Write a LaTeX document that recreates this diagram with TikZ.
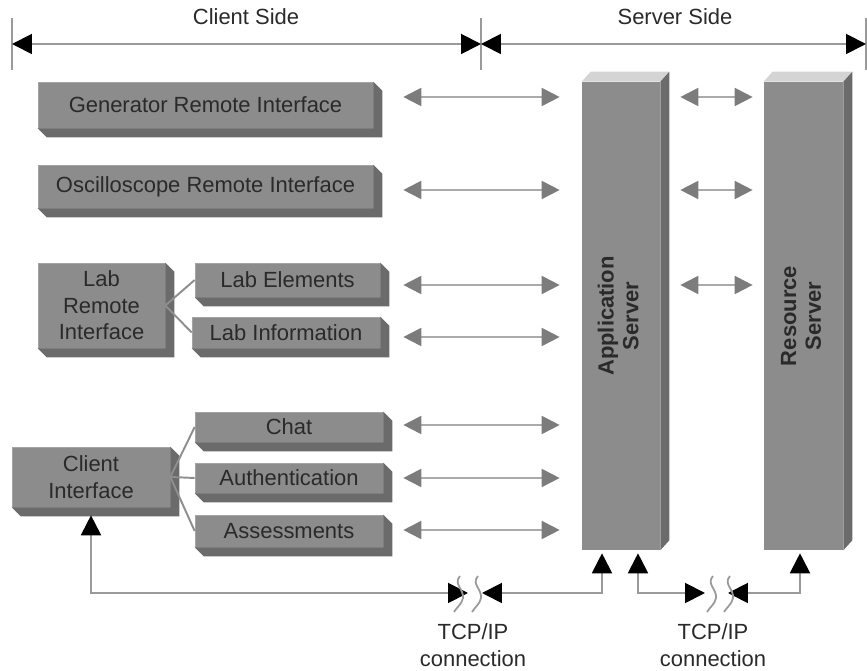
\documentclass[tikz,border=0pt]{standalone}
\usepackage{fontspec}
\setmainfont{Liberation Sans}
\usepackage{xcolor}
\usetikzlibrary{arrows.meta, positioning, calc}

\definecolor{facegray}{HTML}{8C8C8C}
\definecolor{sidegray}{HTML}{6B6B6B}
\definecolor{topgray}{HTML}{D4D4D4}
\definecolor{edgegray}{HTML}{A4A4A4}
\definecolor{linkgray}{HTML}{AAAAAA}
\definecolor{headgray}{HTML}{7C7C7C}
\definecolor{forkgray}{HTML}{8E8E8E}
\definecolor{netgray}{HTML}{9A9A9A}
\definecolor{textgray}{HTML}{2A2A2A}

\begin{document}
\begin{tikzpicture}[x=0.02cm, y=-0.02cm,
  font=\fontsize{12.5}{15}\selectfont,
  slab/.style={rectangle, fill=facegray, draw=edgegray, line width=0.4pt, inner sep=0pt, text=textgray, align=center},
  tower/.style={rectangle, fill=facegray, inner sep=0pt, text=textgray, minimum height=9.36cm, font=\fontsize{12.5}{14.2}\selectfont\bfseries},
  link/.style={draw=linkgray, line width=1.1pt, arrows={Triangle[length=0.36cm,width=0.36cm,color=headgray]-Triangle[length=0.36cm,width=0.36cm,color=headgray]}},
  fork/.style={draw=forkgray, line width=1.1pt},
  net/.style={draw=netgray, line width=1.1pt, arrows={Triangle[length=0.4cm,width=0.4cm,color=black]-Triangle[length=0.4cm,width=0.4cm,color=black]}},
  tick/.style={draw=netgray, line width=1pt},
  wave/.style={draw=netgray, line width=1pt},
  caption/.style={text=textgray, align=center}
]
\useasboundingbox (0,0) rectangle (867,671);

% Client side
\node (gen) [slab, minimum width=6.7cm, minimum height=0.92cm] at (205.5,105) {Generator Remote Interface};
\node (osc) [slab, minimum width=6.7cm, minimum height=0.86cm] at (205.5,186.5) {Oscilloscope Remote Interface};
\node (labri) [slab, minimum width=2.54cm, minimum height=1.7cm] at (101.5,305.5) {Lab\\Remote\\Interface};
\node (labelem) [slab, minimum width=3.7cm, minimum height=0.68cm] at (287.5,280) {Lab Elements};
\node (labinfo) [slab, minimum width=3.76cm, minimum height=0.62cm] at (286,332.5) {Lab Information};
\node (ci) [slab, minimum width=3.16cm, minimum height=1.2cm] at (91,477) {Client\\Interface};
\node (chat) [slab, minimum width=3.76cm, minimum height=0.6cm] at (289,427) {Chat};
\node (auth) [slab, minimum width=3.76cm, minimum height=0.6cm] at (289,478) {Authentication};
\node (assess) [slab, minimum width=3.76cm, minimum height=0.64cm] at (289,531) {Assessments};

\foreach \n in {gen,osc,labri,labelem,labinfo,ci,chat,auth,assess}
  \fill[sidegray] (\n.south west) -- ++(9,9) -- ([shift={(9,9)}]\n.south east)
    -- ([shift={(9,9)}]\n.north east) -- (\n.north east) -- (\n.south east) -- cycle;

% Server side
\node (app) [tower, minimum width=1.56cm] at (621,316) {\rotatebox{90}{\begin{tabular}{@{}c@{}}Application\\Server\end{tabular}}};
\node (res) [tower, minimum width=1.58cm] at (803.5,316) {\rotatebox{90}{\begin{tabular}{@{}c@{}}Resource\\Server\end{tabular}}};

\foreach \n in {app,res} {
  \fill[topgray] (\n.north west) -- ++(9,-10) -- ([shift={(9,-10)}]\n.north east) -- (\n.north east) -- cycle;
  \fill[sidegray] (\n.north east) -- ++(9,-10) -- ([shift={(9,-10)}]\n.south east) -- (\n.south east) -- cycle;
}

% Forks
\draw[fork] (labri.east) -- (labelem.west);
\draw[fork] (labri.east) -- (labinfo.west);
\draw[fork] (ci.east) -- (chat.west);
\draw[fork] (ci.east) -- (auth.west);
\draw[fork] (ci.east) -- (assess.west);

% Links to the servers
\foreach \n/\y/\s in {gen/97/0.6cm, osc/190/0.6cm, labelem/285/0.46cm, labinfo/337/0.46cm, chat/425/0.4cm, auth/478/0.4cm, assess/530/0.4cm}
  \draw[link, shorten <=\s, shorten >=0.44cm] (\n.east |- 0,\y) -- (app.west |- 0,\y);
\foreach \y in {97,190,285}
  \draw[link, shorten <=0.4cm, shorten >=0.22cm] (app.east |- 0,\y) -- (res.west |- 0,\y);

% Sides
\coordinate (sideL) at (12,44);
\coordinate (sideM) at (481,44);
\coordinate (sideR) at (866,44);
\foreach \c in {sideL,sideM,sideR}
  \draw[tick] (\c) ++(0,-26) -- ++(0,52);
\draw[net] (sideL) -- (sideM);
\draw[net] (sideM) -- (sideR);
\node (clientside) [caption] at (246,17) {Client Side};
\node (serverside) [caption] at (675,17) {Server Side};

% TCP/IP connections
\coordinate (cut1l) at (468,593);
\coordinate (cut1r) at (482,593);
\coordinate (cut2l) at (705,593);
\coordinate (cut2r) at (728,593);
\draw[net, shorten <=0.16cm] (ci.south) |- (cut1l);
\draw[net, shorten >=0.06cm] (cut1r) -| ([xshift=-0.38cm]app.south);
\draw[net, shorten <=0.06cm] ([xshift=0.34cm]app.south) |- (cut2l);
\draw[net, shorten >=0.06cm] (cut2r) -| ([xshift=-0.07cm]res.south);
\foreach \x in {459,477,712,729}
  \draw[wave] (\x+1,576) .. controls (\x-6,584) and (\x+5,589) .. (\x+4,598)
    .. controls (\x+3,604) and (\x-2,607) .. (\x-5,612);
\node (tcp1) [caption] at (473,645) {TCP/IP\\connection};
\node (tcp2) [caption] at (713,645) {TCP/IP\\connection};
\end{tikzpicture}
\end{document}
